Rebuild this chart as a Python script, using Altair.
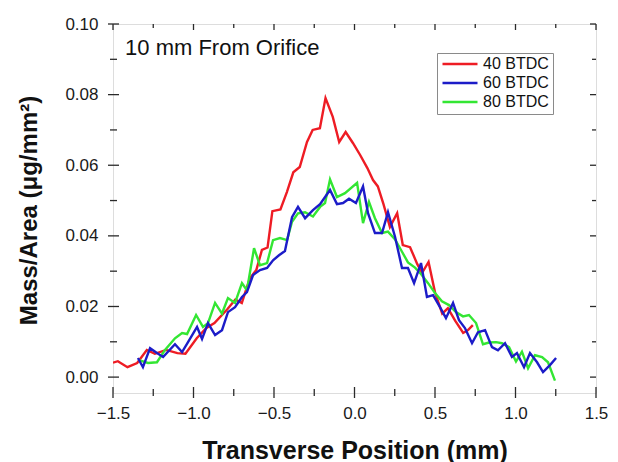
import altair as alt
import pandas as pd

# ---- data ----
red_x = [-1.50, -1.47, -1.41, -1.35, -1.29, -1.24, -1.17, -1.10, -1.05, -0.98, -0.92, -0.87, -0.79, -0.74,
         -0.70, -0.65, -0.61, -0.575, -0.54, -0.51, -0.46, -0.42, -0.38, -0.34, -0.295, -0.26, -0.215,
         -0.18, -0.135, -0.095, -0.055, -0.01, 0.035, 0.08, 0.115, 0.145, 0.18, 0.22, 0.265, 0.30, 0.345,
         0.39, 0.42, 0.46, 0.50, 0.545, 0.58, 0.625, 0.675, 0.705, 0.735]
red_y = [0.0041, 0.0045, 0.0028, 0.0040, 0.0077, 0.0066, 0.0077, 0.0068, 0.0066, 0.0110, 0.0139, 0.0153,
         0.0192, 0.0220, 0.0210, 0.0280, 0.0303, 0.0360, 0.0367, 0.0470, 0.0475, 0.0524, 0.0580, 0.0595,
         0.0666, 0.0700, 0.0705, 0.0790, 0.0737, 0.0666, 0.0694, 0.0663, 0.0629, 0.0592, 0.0558, 0.0540,
         0.0490, 0.0425, 0.0464, 0.0374, 0.0368, 0.0320, 0.0295, 0.0326, 0.0240, 0.0180, 0.0195, 0.0160,
         0.0125, 0.0133, 0.0147]

blue_x = [-1.345, -1.314, -1.270, -1.227, -1.189, -1.115, -1.071, -1.034, -0.978, -0.947, -0.910, -0.866,
          -0.823, -0.786, -0.742, -0.699, -0.668, -0.630, -0.587, -0.543, -0.506, -0.469, -0.432, -0.388,
          -0.351, -0.307, -0.258, -0.214, -0.152, -0.109, -0.071, -0.034, 0.009, 0.053, 0.084, 0.127,
          0.171, 0.208, 0.252, 0.295, 0.332, 0.370, 0.413, 0.450, 0.488, 0.531, 0.568, 0.612, 0.649,
          0.686, 0.730, 0.767, 0.811, 0.854, 0.891, 0.935, 0.978, 1.009, 1.053, 1.090, 1.134, 1.171,
          1.214, 1.252]
blue_y = [0.0054, 0.0028, 0.0082, 0.0068, 0.0057, 0.0093, 0.0071, 0.0099, 0.0142, 0.0108, 0.0153, 0.0119,
          0.0133, 0.0184, 0.0198, 0.0227, 0.0241, 0.0289, 0.0303, 0.0309, 0.0331, 0.0345, 0.0357, 0.0453,
          0.0482, 0.0450, 0.0473, 0.0490, 0.0530, 0.0490, 0.0493, 0.0505, 0.0493, 0.0540, 0.0464, 0.0408,
          0.0408, 0.0467, 0.0397, 0.0309, 0.0309, 0.0266, 0.0323, 0.0227, 0.0232, 0.0198, 0.0167, 0.0210,
          0.0161, 0.0139, 0.0096, 0.0127, 0.0133, 0.0085, 0.0076, 0.0096, 0.0057, 0.0068, 0.0028, 0.0068,
          0.0042, 0.0014, 0.0034, 0.0054]

green_x = [-1.339, -1.283, -1.227, -1.177, -1.115, -1.071, -1.040, -0.984, -0.941, -0.910, -0.866, -0.823,
           -0.786, -0.742, -0.699, -0.668, -0.624, -0.587, -0.543, -0.506, -0.463, -0.419, -0.388, -0.351,
           -0.307, -0.258, -0.214, -0.183, -0.152, -0.109, -0.059, 0.016, 0.053, 0.090, 0.127, 0.171,
           0.208, 0.252, 0.289, 0.332, 0.376, 0.413, 0.457, 0.500, 0.543, 0.587, 0.630, 0.674, 0.711,
           0.755, 0.798, 0.836, 0.879, 0.916, 0.960, 1.003, 1.040, 1.078, 1.121, 1.165, 1.202, 1.245]
green_y = [0.0048, 0.0040, 0.0042, 0.0077, 0.0110, 0.0125, 0.0122, 0.0176, 0.0142, 0.0153, 0.0210, 0.0180,
           0.0224, 0.0210, 0.0266, 0.0246, 0.0365, 0.0317, 0.0323, 0.0388, 0.0394, 0.0388, 0.0440, 0.0464,
           0.0467, 0.0455, 0.0482, 0.0493, 0.0560, 0.0510, 0.0521, 0.0550, 0.0436, 0.0496, 0.0450, 0.0408,
           0.0412, 0.0390, 0.0360, 0.0325, 0.0310, 0.0292, 0.0266, 0.0238, 0.0215, 0.0204, 0.0184, 0.0172,
           0.0176, 0.0153, 0.0093, 0.0098, 0.0099, 0.0096, 0.0085, 0.0044, 0.0072, 0.0025, 0.0062, 0.0057,
           0.0042, -0.0010]

series_names = ["40 BTDC", "60 BTDC", "80 BTDC"]
series_colors = ["#ee1c24", "#1c1cc8", "#33e633"]

x_major = [-1.5, -1.0, -0.5, 0.0, 0.5, 1.0, 1.5]
x_minor = [-1.25, -0.75, -0.25, 0.25, 0.75, 1.25]
y_major = [0.0, 0.02, 0.04, 0.06, 0.08, 0.10]
y_minor = [0.01, 0.03, 0.05, 0.07, 0.09]

annotation = ["10 mm From Orifice"]
annot_x = [-1.425]
annot_y = [0.0912]

X_DOMAIN = [-1.5, 1.5]
Y_DOMAIN = [-0.0045, 0.10]

# ---- build table ----
rows = []
for name, xs_, ys_ in [(series_names[0], red_x, red_y),
                       (series_names[2], green_x, green_y),
                       (series_names[1], blue_x, blue_y)]:
    for a, b in zip(xs_, ys_):
        rows.append({"x": a, "y": b, "series": name})
df = pd.DataFrame(rows)

W, H = 483, 369
FONT = "Liberation Sans"
FRAME = "#2a2a2a"

xs = alt.Scale(domain=X_DOMAIN, nice=False, zero=False)
ys = alt.Scale(domain=Y_DOMAIN, nice=False, zero=False)

lines = alt.Chart(df).mark_line(strokeWidth=2.4, clip=True).encode(
    x=alt.X("x:Q", scale=xs, axis=alt.Axis(
        values=x_major, format=".1f", ticks=False, tickSize=0, domain=False, grid=False,
        labelFont=FONT, labelFontSize=17, labelColor="#1a1a1a", labelPadding=12,
        labelFlush=False, labelOverlap=False,
        title="Transverse Position (mm)", titleFont=FONT, titleFontSize=25,
        titleFontWeight="bold", titleColor="#111", titleBaseline="alphabetic", titleY=65)),
    y=alt.Y("y:Q", scale=ys, axis=alt.Axis(
        values=y_major, format=".2f", ticks=False, tickSize=0, domain=False, grid=False,
        labelFont=FONT, labelFontSize=17, labelColor="#1a1a1a", labelPadding=15,
        labelOverlap=False,
        title="Mass/Area (μg/mm²)", titleFont=FONT, titleFontSize=24,
        titleFontWeight="bold", titleColor="#111", titleBaseline="alphabetic",
        titleX=-77, titleY=186, titleAngle=270)),
    color=alt.Color("series:N", scale=alt.Scale(domain=series_names, range=series_colors),
                    legend=alt.Legend(
                        title=None, orient="none", legendX=324, legendY=29,
                        symbolType="stroke", symbolSize=1225, symbolStrokeWidth=2.5,
                        clipHeight=14, rowPadding=3, labelOffset=4,
                        labelFont=FONT, labelFontSize=16, labelColor="#111",
                        padding=4, strokeColor="#8a8a8a", fillColor="white",
                        cornerRadius=0)),
    detail="series:N",
)

xmaj = pd.DataFrame({"v": x_major})
xmin = pd.DataFrame({"v": x_minor})
ymaj = pd.DataFrame({"v": y_major})
ymin = pd.DataFrame({"v": y_minor})


def xtick(data, at, size, offset):
    return alt.Chart(data).mark_tick(
        orient="vertical", size=size, thickness=1.3, color=FRAME, opacity=1, yOffset=offset
    ).encode(x=alt.X("v:Q", scale=xs), y=alt.Y(datum=at, scale=ys))


def ytick(data, at, size, offset):
    return alt.Chart(data).mark_tick(
        orient="horizontal", size=size, thickness=1.3, color=FRAME, opacity=1, xOffset=offset
    ).encode(y=alt.Y("v:Q", scale=ys), x=alt.X(datum=at, scale=xs))


ticks = [
    xtick(xmaj, Y_DOMAIN[0], 11, -0.5), xtick(xmin, Y_DOMAIN[0], 7, -0.5),
    xtick(xmaj, Y_DOMAIN[1], 6, 3), xtick(xmin, Y_DOMAIN[1], 4, 2),
    ytick(ymaj, X_DOMAIN[0], 11, 0.5), ytick(ymin, X_DOMAIN[0], 7, 0.5),
    ytick(ymaj, X_DOMAIN[1], 6, -3), ytick(ymin, X_DOMAIN[1], 4, -2),
]

annot = alt.Chart(pd.DataFrame({"t": annotation, "x": annot_x, "y": annot_y})).mark_text(
    align="left", baseline="alphabetic", font=FONT, fontSize=22, color="#111"
).encode(x=alt.X("x:Q", scale=xs), y=alt.Y("y:Q", scale=ys), text="t:N")

chart = alt.layer(lines, *ticks, annot).properties(
    width=W, height=H,
    autosize=alt.AutoSizeParams(type="none"),
    padding={"left": 113, "top": 24, "right": 22, "bottom": 69},
).configure_view(stroke=FRAME, strokeWidth=1.5).configure(background="white")

chart.save("out.html", embed_options={"renderer": "svg", "actions": False})
